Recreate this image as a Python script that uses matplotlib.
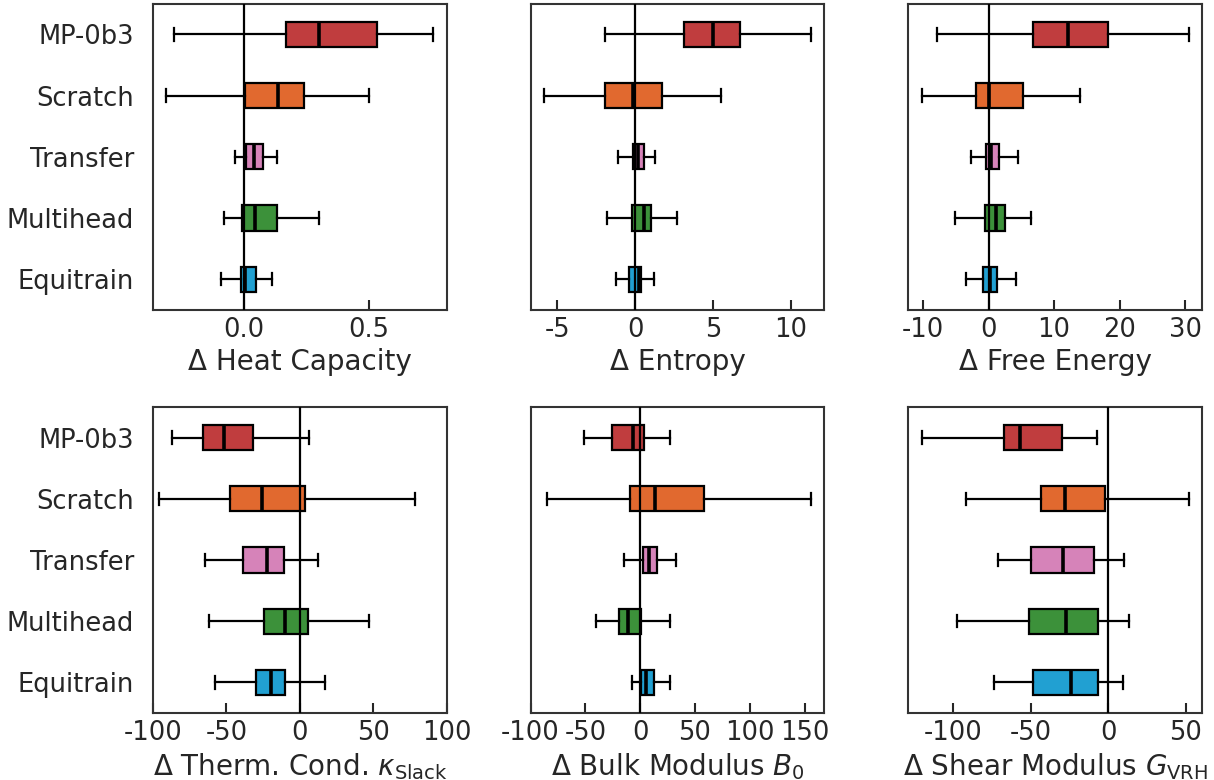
import matplotlib
matplotlib.use("Agg")
import matplotlib.pyplot as plt

plt.rcParams["font.family"] = ["DejaVu Sans"]
plt.rcParams["font.size"] = 18.5
plt.rcParams["axes.unicode_minus"] = False
plt.rcParams["text.color"] = "#262626"
plt.rcParams["xtick.color"] = "#262626"
plt.rcParams["ytick.color"] = "#262626"
plt.rcParams["axes.labelcolor"] = "#262626"

models = ["MP-0b3", "Scratch", "Transfer", "Multihead", "Equitrain"]
colors = ["#c03d3e", "#e1692f", "#d683b9", "#3c913a", "#21a0d2"]

# per panel: whislo, q1, median, q3, whishi for each model
heat_cap = [
    [-0.279, 0.169, 0.299, 0.530, 0.756],
    [-0.309, 0.004, 0.136, 0.242, 0.501],
    [-0.036, 0.008, 0.040, 0.077, 0.134],
    [-0.077, -0.009, 0.045, 0.134, 0.302],
    [-0.090, -0.010, 0.003, 0.049, 0.114],
]
entropy = [
    [-1.93, 3.13, 5.01, 6.73, 11.31],
    [-5.87, -1.93, -0.13, 1.76, 5.53],
    [-1.13, -0.17, 0.19, 0.60, 1.25],
    [-1.82, -0.21, 0.54, 1.05, 2.72],
    [-1.26, -0.40, 0.22, 0.37, 1.20],
]
free_energy = [
    [-7.95, 6.75, 12.07, 18.25, 30.52],
    [-10.24, -1.98, 0.10, 5.32, 13.9],
    [-2.74, -0.35, 0.36, 1.52, 4.41],
    [-5.07, -0.56, 1.12, 2.43, 6.54],
    [-3.44, -0.81, 0.15, 1.22, 4.21],
]
therm_cond = [
    [-86.7, -65.6, -51.4, -31.7, 6.1],
    [-95.7, -47.6, -25.6, 3.4, 78.5],
    [-64.5, -38.5, -22.2, -10.9, 12.7],
    [-61.5, -24.7, -10.0, 5.6, 47.0],
    [-57.7, -29.8, -19.3, -10.0, 17.4],
]
bulk_mod = [
    [-51.4, -25.5, -6.7, 3.4, 26.8],
    [-85.1, -9.7, 13.4, 58.4, 156.0],
    [-14.3, 2.4, 8.5, 15.5, 32.3],
    [-40.7, -19.2, -10.9, 0.6, 27.4],
    [-7.9, 0.6, 4.9, 12.5, 27.4],
]
shear_mod = [
    [-120.3, -67.1, -56.6, -30.0, -7.1],
    [-91.8, -43.1, -28.1, -2.1, 51.7],
    [-71.0, -49.7, -29.4, -9.2, 9.9],
    [-97.6, -51.2, -27.4, -6.4, 13.5],
    [-73.6, -48.7, -24.2, -6.8, 9.7],
]

panels = [
    (heat_cap, r"Δ Heat Capacity", None, [0.0, 0.5], ["0.0", "0.5"]),
    (entropy, r"Δ Entropy", None, [-5, 0, 5, 10], None),
    (free_energy, r"Δ Free Energy", None, [-10, 0, 10, 20, 30], None),
    (therm_cond, r"Δ Therm. Cond. $\kappa_{\mathrm{Slack}}$", (-100, 100), [-100, -50, 0, 50, 100], None),
    (bulk_mod, r"Δ Bulk Modulus $B_0$", (-100, 168), [-100, -50, 0, 50, 100, 150], None),
    (shear_mod, r"Δ Shear Modulus $G_{\mathrm{VRH}}$", None, [-100, -50, 0, 50], None),
]

fig, axes = plt.subplots(2, 3, figsize=(12.14, 7.8), dpi=100)
fig.subplots_adjust(left=0.126, right=0.990, top=0.995, bottom=0.086,
                    wspace=0.286, hspace=0.318)

positions = list(range(len(models)))[::-1]

for i, (vals, label, xlim, ticks, ticklabels) in enumerate(panels):
    ax = axes.flat[i]
    stats = []
    for m, v in zip(models, vals):
        stats.append({"label": m, "whislo": v[0], "q1": v[1], "med": v[2],
                      "q3": v[3], "whishi": v[4]})
    bp = ax.bxp(stats, positions=positions, vert=False, widths=0.41,
                showfliers=False, patch_artist=True,
                boxprops=dict(edgecolor="black", linewidth=1.6),
                medianprops=dict(color="black", linewidth=2.6),
                whiskerprops=dict(color="black", linewidth=1.6),
                capprops=dict(color="black", linewidth=1.6))
    for patch, c in zip(bp["boxes"], colors):
        patch.set_facecolor(c)
    ax.axvline(0, color="black", linewidth=1.6, zorder=3)

    if xlim is not None:
        ax.set_xlim(xlim)
    ax.set_ylim(-0.5, 4.5)
    ax.set_xticks(ticks)
    if ticklabels is not None:
        ax.set_xticklabels(ticklabels)
    ax.set_xlabel(label, fontsize=20, labelpad=4)
    ax.tick_params(axis="x", direction="in", length=7, width=1.5, pad=5)
    if i % 3 == 0:
        ax.set_yticks(positions)
        ax.set_yticklabels(models)
        ax.tick_params(axis="y", length=0, pad=13.5)
    else:
        ax.set_yticks([])
    for s in ax.spines.values():
        s.set_color("#333333")
        s.set_linewidth(1.5)

plt.savefig("out.png")
